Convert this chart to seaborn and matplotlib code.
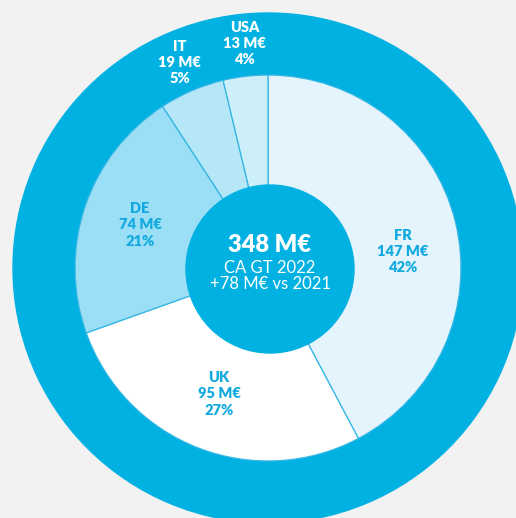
import numpy as np
import matplotlib
matplotlib.use('Agg')
import matplotlib.pyplot as plt
import seaborn as sns

# chiffre d'affaires 2022 par pays
countries = ['FR', 'UK', 'DE', 'IT', 'USA']
values = [147, 95, 74, 19, 13]          # M€
percents = [42, 27, 21, 5, 4]
total = 348
total_label = 'CA GT 2022'
delta_label = '+78 M€ vs 2021'

wedge_colors = ['#E3F4FC', '#FFFFFF', '#9ADFF5', '#B5E7F7', '#CDEFFA']
blue = '#00B1E2'
label_blue = '#12A9DF'
# small manual nudges of the labels (pixels)
label_nudge = {'FR': (4, -16), 'USA': (3, 2)}

sns.set_style("white")
plt.rcParams['font.family'] = ['Lato', 'DejaVu Sans']

fig = plt.figure(figsize=(5.16, 5.18), dpi=100, facecolor='#F2F2F2')
ax = fig.add_axes([0, 0, 1, 1])
ax.set_facecolor('#F2F2F2')

cx, cy = 268, 250
r_outer, r_pie, r_center = 255, 193, 84

# outer blue ring
ax.add_patch(plt.Circle((cx, cy), r_outer, color=blue, zorder=0))

wedges, _ = ax.pie(values, colors=wedge_colors, startangle=90, counterclock=False,
                   center=(cx, cy), radius=r_pie,
                   wedgeprops=dict(edgecolor='#35B6E4', linewidth=0.9))

# center disc
ax.add_patch(plt.Circle((cx + 2, cy - 1), r_center, color=blue, zorder=5))

for w, name, v, p in zip(wedges, countries, values, percents):
    mid = np.deg2rad((w.theta1 + w.theta2) / 2)
    small = v / total < 0.1
    rr = r_pie * (1.16 if small else 0.70)
    dx, dy = label_nudge.get(name, (0, 0))
    x = cx + rr * np.cos(mid) + dx
    y = cy + rr * np.sin(mid) + dy
    ax.text(x, y, f'{name}\n{v} M€\n{p}%', ha='center', va='center',
            fontsize=10.5, fontweight='heavy', linespacing=1.3,
            color='white' if small else label_blue, zorder=6)

ax.text(cx + 2, cy + 23, f'{total} M€', ha='center', va='center',
        fontsize=17, fontweight='heavy', color='white', zorder=6)
ax.text(cx + 2, cy - 8, f'{total_label}\n{delta_label}', ha='center', va='center',
        fontsize=12, color='white', linespacing=1.0, zorder=6)

ax.set_xlim(0, 516)
ax.set_ylim(0, 518)
ax.set_aspect('equal')
ax.axis('off')

fig.savefig('out.png', dpi=100, facecolor=fig.get_facecolor())
